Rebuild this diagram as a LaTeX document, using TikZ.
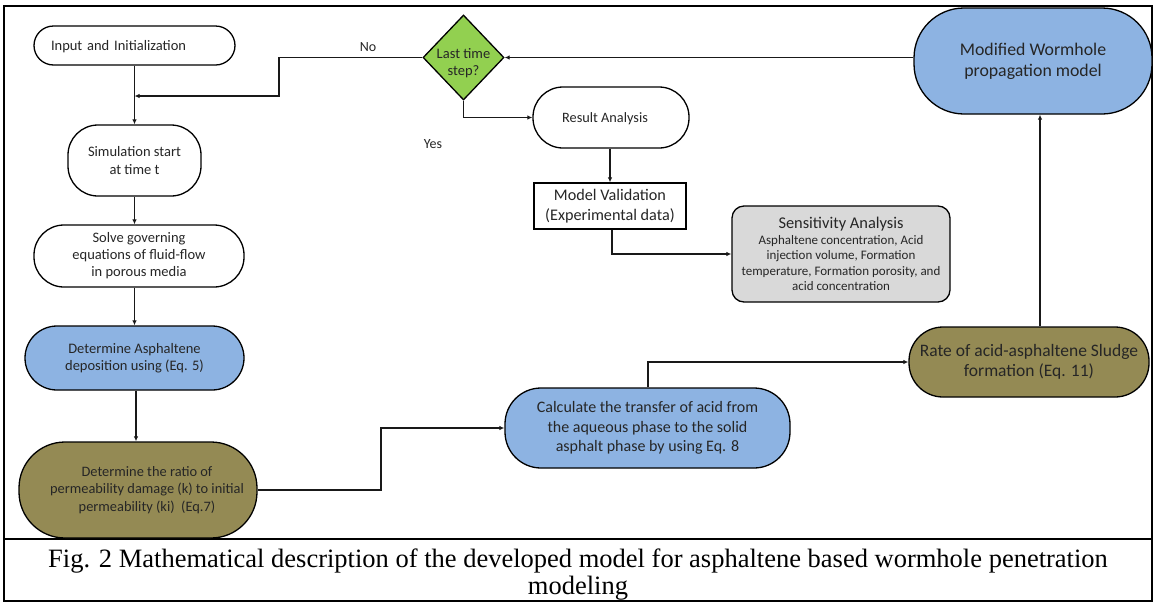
\documentclass[tikz,border=0pt]{standalone}
\usepackage{fontspec}
\setmainfont{Liberation Serif}
\newfontfamily\carl{Carlito}
\usetikzlibrary{shapes.geometric,arrows.meta}
\definecolor{boxblue}{HTML}{8DB3E2}
\definecolor{boxolive}{HTML}{948A54}
\definecolor{boxgreen}{HTML}{92D050}
\definecolor{boxgray}{HTML}{D9D9D9}
\tikzset{
  flowbox/.style={draw=black, line width=1.3pt, align=center, inner sep=0pt, font=\carl\fontsize{14.5}{17}\selectfont, text=black!85},
  conn/.style={line width=1.2pt, draw=black!90},
  arr/.style={conn, -{Latex[length=5pt,width=4.5pt]}},
  lbl/.style={font=\carl\fontsize{14}{16}\selectfont, text=black!85, inner sep=0pt}
}
\begin{document}
\begin{tikzpicture}[x=1pt,y=-1pt]
\useasboundingbox (0,0) rectangle (1156,603);
\fill[white] (0,0) rectangle (1156,603);
% frame
\draw[line width=2pt] (4,6) rectangle (1152,601);
\draw[line width=2pt] (4,539) -- (1152,539);

% nodes
\node[flowbox, minimum width=201, minimum height=39, rounded corners=19.5, text width=167, align=left, text depth=0pt] (inp) at (134.5,45.5) {Input and Initialization};
\node[flowbox, minimum width=133, minimum height=71, rounded corners=30, font=\carl\fontsize{14.5}{18}\selectfont] (sim) at (134.5,160.5) {Simulation start\\at time t};
\node[flowbox, minimum width=210, minimum height=62, rounded corners=30] (solve) at (139,256) {Solve governing\\equations of fluid-flow\\in porous media};
\node[flowbox, fill=boxblue, minimum width=219, minimum height=64, rounded corners=32] (asph) at (134.5,358) {Determine Asphaltene\\deposition using (Eq. 5)};
\node[flowbox, fill=boxolive, minimum width=238, minimum height=96, rounded corners=46, font=\carl\fontsize{14.4}{17.5}\selectfont] (ratio) at (138,490) {\hspace*{18pt}Determine the ratio of\\\hspace*{18pt}permeability damage (k) to initial\\\hspace*{18pt}permeability (ki)~~(Eq.7)};
\node[flowbox, fill=boxblue, minimum width=285, minimum height=80, rounded corners=36, font=\carl\fontsize{16}{19.5}\selectfont] (calc) at (647.5,428) {Calculate the transfer of acid from\\the aqueous phase to the solid\\asphalt phase by using Eq. 8};
\node[flowbox, fill=boxolive, minimum width=240, minimum height=70, rounded corners=34, font=\carl\fontsize{17.5}{20}\selectfont] (rate) at (1029,362) {Rate of acid-asphaltene Sludge\\formation (Eq. 11)};
\node[flowbox, fill=boxblue, minimum width=238, minimum height=106, rounded corners=50, font=\carl\fontsize{17.8}{21}\selectfont] (worm) at (1033,61) {Modified Wormhole\\propagation model};
\node[flowbox, shape=diamond, fill=boxgreen, minimum width=81, minimum height=85] (dia) at (463.5,57.5) {};
\node[font=\carl\fontsize{14.5}{17}\selectfont, text=black!85, align=center, inner sep=0pt] (diatxt) at (463.5,63.5) {Last time\\step?};
\node[flowbox, minimum width=156, minimum height=61, rounded corners=30, font=\carl\fontsize{14.3}{16}\selectfont, text depth=0pt] (res) at (611,117.5) {Result Analysis\hspace*{12pt}};
\node[flowbox, minimum width=152, minimum height=46, font=\carl\fontsize{16.2}{20}\selectfont] (val) at (610,206) {Model Validation\\(Experimental data)};
\node[flowbox, fill=boxgray, minimum width=218, minimum height=96, rounded corners=12, font=\carl\fontsize{13}{15.5}\selectfont] (sens) at (841,254) {{\fontsize{16.4}{18}\selectfont Sensitivity Analysis}\\Asphaltene concentration, Acid\\injection volume, Formation\\temperature, Formation porosity, and\\acid concentration};

\coordinate (join) at (134.5,96);

% connectors
\draw[arr] (inp.south) -- (sim.north);
\draw[arr] (dia.west) -- (279,57.5) |- (join);
\draw[arr] (sim.south) -- (sim.south |- solve.north);
\draw[arr] (solve.south -| sim.south) -- (asph.north -| sim.south);
\draw[arr] ([xshift=1.5pt]asph.south) -- ([xshift=1.5pt]asph.south |- ratio.north);
\draw[arr, line width=2pt] (ratio.east) -- (381,490) |- (calc.west);
\draw[arr, line width=2pt] (calc.north) |- (rate.west);
\draw[arr] ([xshift=11pt]rate.north) -- ([xshift=11pt]rate.north |- worm.south);
\draw[arr] (worm.west |- dia.east) -- (dia.east);
\draw[arr] (dia.south) |- (res.west);
\draw[arr] (res.south -| val.north) -- (val.north);
\draw[arr] ([xshift=2pt]val.south) |- (sens.west);

% labels
\node[lbl] (nolbl) at (368,47) {No};
\node[lbl] (yeslbl) at (433,144) {Yes};

% caption
\node[align=center, font=\fontsize{26.5}{27}\selectfont, inner sep=0pt] (cap) at (578,575) {Fig. 2 Mathematical description of the developed model for asphaltene based wormhole penetration\\modeling};
\end{tikzpicture}
\end{document}
